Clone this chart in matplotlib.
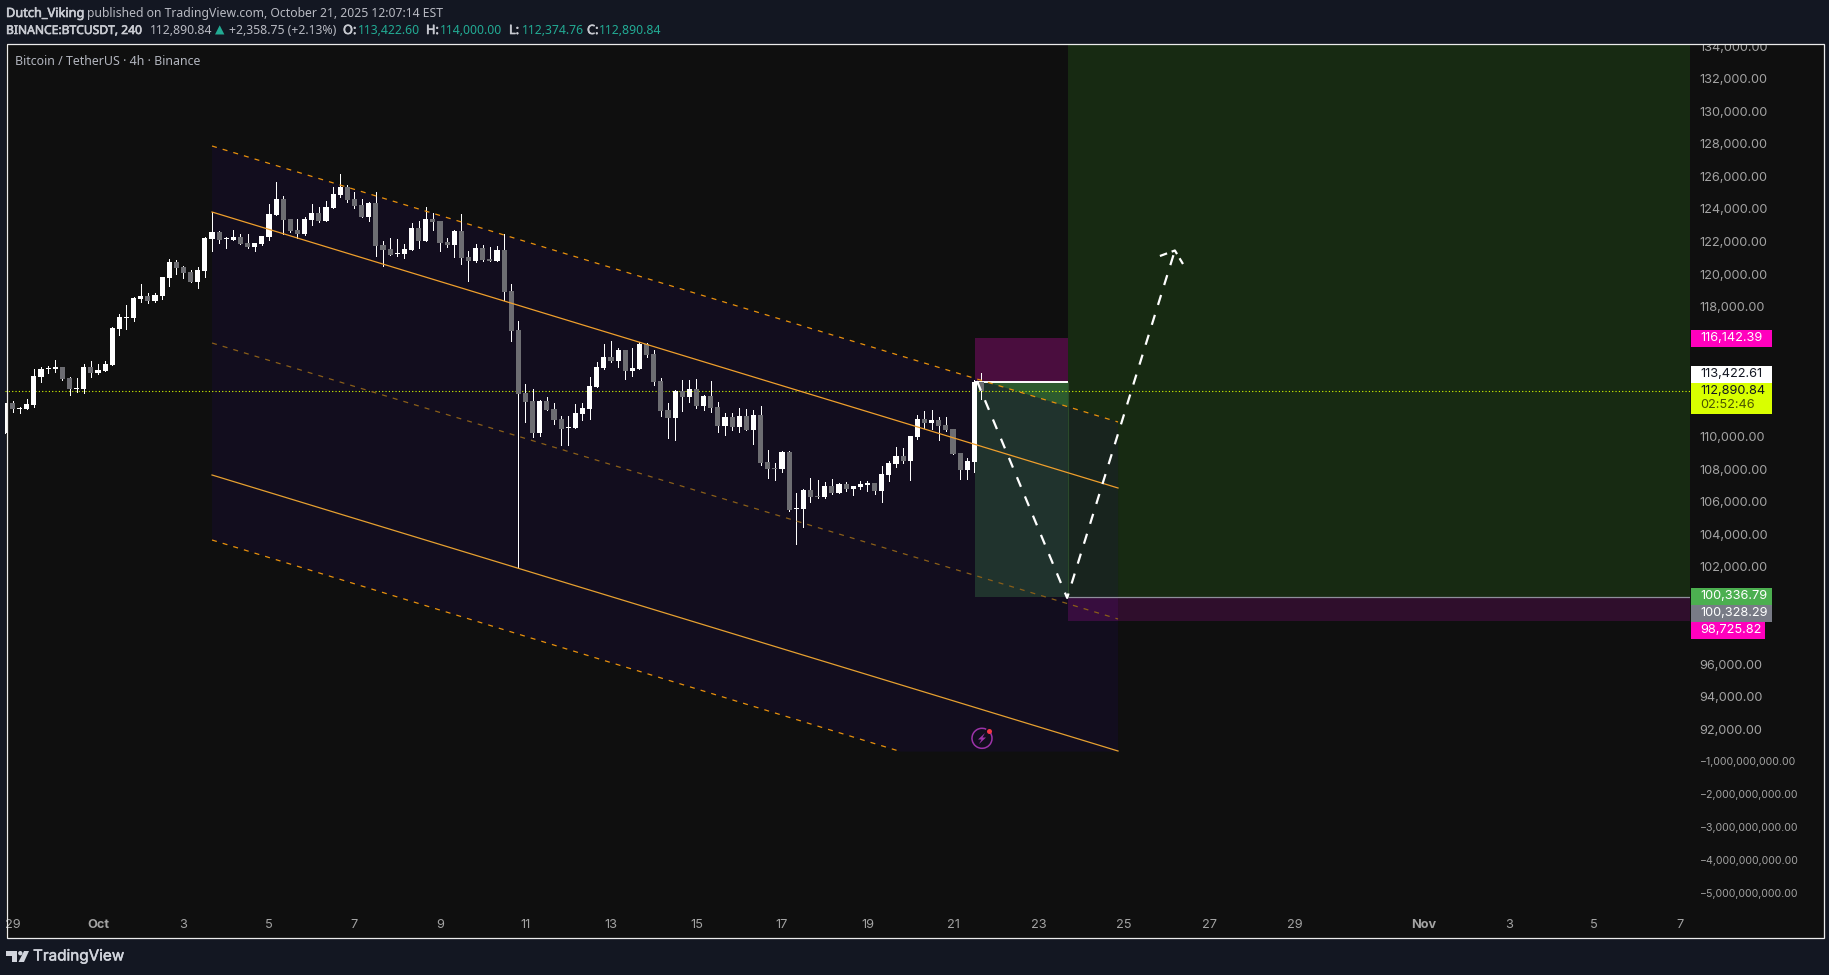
import matplotlib
matplotlib.use("Agg")
import matplotlib.pyplot as plt
import matplotlib.patheffects as pe
import numpy as np
from matplotlib.patches import Polygon, Rectangle, Circle, Arc

plt.rcParams['lines.scale_dashes'] = False
plt.rcParams['font.family'] = ['Noto Sans', 'DejaVu Sans']

# ---------- data ----------
opens = [
110270,112130,111780,111780,112010,113730,114240,114220,114340,113670,
112990,112990,114340,113970,114100,114470,116680,117360,117360,118520,
118710,118400,118710,119810,120800,120490,120180,119570,120240,122210,
122640,122210,122150,122330,121970,121720,121900,122330,123690,124670,
123440,122770,122520,123380,123810,123320,124120,124920,125410,124670,
124300,123560,124420,121840,121600,121290,121290,121540,122890,122090,
123440,123320,122030,121840,122700,121100,120860,121660,120980,120860,
121540,119020,116620,112750,112250,110290,112250,111760,111150,110600,
110600,111460,111760,113120,114280,114960,114710,115390,114100,114220,
115760,115140,113480,111700,111210,112870,112500,112990,111950,112560,
111890,110720,111270,110660,111330,110470,111390,108500,108140,108080,
109120,105620,105620,106780,106420,106350,107030,106600,107150,106850,
106970,107090,107210,106720,107710,108380,108870,108570,110040,111150,
110900,111090,110780,110530,109060,108010,108500,113422.60]
highs = [
112110,112250,111900,112360,114220,114320,114400,114770,114340,113710,
113670,114530,114710,114530,114690,116780,117600,118150,118650,119450,
118890,118890,119880,120980,120920,120550,120310,120490,122310,123870,
122700,122340,122770,122520,122520,121970,122400,124360,125720,124860,
123440,123440,123560,124360,124180,124550,125410,126210,125530,125100,
124670,124490,125100,122090,122270,122210,121900,123200,123320,124180,
123810,123320,122270,122770,123750,121470,121900,121840,121720,121780,
122520,119450,117170,113300,112990,112320,112500,112130,111330,111330,
112070,112130,113730,114650,115760,115940,115510,115390,115510,115880,
115820,115390,113670,112130,112930,113550,113550,113610,112620,113480,
112190,111520,111520,111820,111760,111700,111950,109240,108440,109180,
109180,106600,106850,107520,107400,107280,107460,107210,107280,107030,
107340,107340,107210,108260,108570,109430,109370,110100,111390,111640,
111700,111270,111270,110530,109060,108750,113550,114000]
lows = [
110270,111600,111540,111780,111900,113440,114000,114060,113540,112640,
112810,112770,113730,113910,114100,114470,116310,116680,117170,118340,
118280,118340,118520,119320,120060,119810,119570,119200,119880,121470,
121970,121660,122150,121900,121660,121470,121840,122150,123690,122520,
122640,122270,122460,123070,123260,123320,124120,124790,124490,124120,
123560,123320,121170,120550,121230,121170,121040,121540,121660,122090,
122770,121470,121720,121100,120680,119630,120800,120860,120860,120860,
118460,115940,101970,110960,110040,110100,111700,110840,109550,109550,
110600,111090,111150,113120,114220,114650,114340,113610,113790,114220,
114960,113240,111330,109980,109860,111640,112190,111820,111700,111580,
110350,110160,110470,110350,110470,109610,108320,107520,107400,107890,
105490,103460,104510,106050,106290,106290,106540,106600,106720,106480,
106850,106720,106540,106050,107340,108200,108440,107400,109920,110600,
110530,109860,110410,109000,107460,107460,107890,112374.76]
closes = [
112110,111760,111840,112070,113790,114220,114300,114340,113610,112990,
113050,114340,113970,114160,114530,116740,117420,117420,118580,118710,
118400,118770,119880,120800,120430,120120,119570,120310,122270,122640,
122150,122270,122330,121900,121720,121970,122400,123750,124670,123380,
122700,122520,123440,123810,123320,124180,124980,125410,124610,124240,
123560,124420,121780,121540,121230,121350,121600,122890,122090,123440,
123260,121970,121840,122700,121040,120860,121660,120920,120860,121540,
118960,116560,112690,112190,110290,112250,111700,111090,110530,110660,
111520,111820,113180,114340,114960,114710,115390,114100,114280,115760,
115080,113420,111640,111210,112870,112500,112990,111950,112560,111820,
110720,111270,110660,111330,110470,111390,108440,108080,108080,109120,
105550,105680,106780,106350,106350,107030,106600,107150,106850,107030,
107150,107210,106720,107770,108440,108870,108570,110100,111150,110900,
111090,110720,110470,109000,108010,108570,113420,112890.84]

first_candle_day = -13 / 6      # days from Oct 1
candle_step = 1 / 6

x_tick_days = [-2, 0, 2, 4, 6, 8, 10, 12, 14, 16, 18, 20, 22, 24, 26, 28, 31, 33, 35, 37]
x_tick_labels = ['29', 'Oct', '3', '5', '7', '9', '11', '13', '15', '17', '19', '21',
                 '23', '25', '27', '29', 'Nov', '3', '5', '7']

price_ticks = [134000, 132000, 130000, 128000, 126000, 124000, 122000, 120000, 118000,
               110000, 108000, 106000, 104000, 102000, 96000, 94000, 92000]
scale_break_ticks = [-1e9, -2e9, -3e9, -4e9, -5e9]

# channel (start day, end day, prices)
channel_days = [2.667, 23.86]
chan_top = [127929, 110964]
chan_upper = [123872, 106907]
chan_mid = [115820, 98853]
chan_lower = [107706, 90740]
chan_bottom_start = 103710
chan_floor = 90700
chan_bottom_end_day = 18.78

last_close = 112890.84
entry_a = 113422.61
stop_a = 116142.39
target_a = 100230
stop_b = 98725.82
pos_a_days = [20.515, 22.69]
pos_b_days = [22.69, 37.24]
sky_price = 134230

path_days = [20.56, 22.67, 25.19]
path_prices = [113484, 100150, 121506]
wing_days = [24.84, 25.19, 25.38]
wing_prices = [121168, 121506, 120676]

tags = [
    ('116,142.39', 330, 347, 1772, '#ff00bd', '#ffffff'),
    ('113,422.61', 366, 383, 1772, '#ffffff', '#131722'),
    ('100,336.79', 588, 605, 1772, '#4caf50', '#ffffff'),
    ('100,328.29', 605, 622, 1772, '#787b86', '#ffffff'),
    ('98,725.82', 622, 639, 1765, '#ff00bd', '#ffffff'),
]

# ---------- layout ----------
W, H = 1829, 975
fig = plt.figure(figsize=(W / 100, H / 100), dpi=100, facecolor='#131722')
L, R, T, B = 5.0, 1690, 43.5, 912

bg = fig.add_axes([0, 0, 1, 1], zorder=0)
bg.set_xlim(0, W); bg.set_ylim(H, 0); bg.axis('off')
bg.add_patch(Rectangle((6, T), 1817.5, 938 - T, fc='#0f0f0f', ec='none'))

ax = fig.add_axes([L / W, (H - B) / H, (R - L) / W, (B - T) / H], zorder=1)
ax.patch.set_alpha(0)
for s in ax.spines.values():
    s.set_visible(False)
ax.set_xlim((L - 98) / 42.75, (R - 98) / 42.75)
ax.set_ylim(124610 - (B - 200) * 61.47, 124610 + (200 - T) * 61.47)

TICK = ['Inter', 'Roboto', 'DejaVu Sans']
TS = 9.2

# positions
d0, d1 = pos_a_days
ax.add_patch(Rectangle((d0, entry_a), d1 - d0, stop_a - entry_a, fc='#4a0d3e', ec='none', zorder=1))
ax.add_patch(Rectangle((d0, target_a), d1 - d0, entry_a - target_a, fc='#2c5a2e', ec='none', zorder=1))
ax.add_patch(Rectangle((pos_b_days[0], target_a), pos_b_days[1] - pos_b_days[0], sky_price - target_a,
                       fc='#172a12', ec='none', zorder=1))
ax.add_patch(Rectangle((pos_b_days[0], stop_b), pos_b_days[1] - pos_b_days[0], target_a - stop_b,
                       fc='#2f0e2c', ec='none', zorder=1))

# channel fill
poly = [(channel_days[0], chan_top[0]), (channel_days[1], chan_top[1]), (channel_days[1], chan_floor),
        (chan_bottom_end_day, chan_floor), (channel_days[0], chan_bottom_start)]
ax.add_patch(Polygon(poly, closed=True, fc='#150d2d', ec='none', alpha=0.5, zorder=2))
# overlap of the channel with the large target box and stop box
top_at_b = np.interp(pos_b_days[0], channel_days, chan_top)
ax.add_patch(Polygon([(pos_b_days[0], top_at_b), (channel_days[1], chan_top[1]),
                      (channel_days[1], target_a), (pos_b_days[0], target_a)],
                     closed=True, fc='#18241e', ec='none', zorder=2.2))
ax.add_patch(Rectangle((pos_b_days[0], stop_b), channel_days[1] - pos_b_days[0], target_a - stop_b,
                       fc='#370d3e', ec='none', zorder=2.5))

# position edges
ax.plot(pos_a_days, [entry_a, entry_a], color='#ffffff', lw=1.4, zorder=3, solid_capstyle='butt')
ax.plot(pos_b_days, [target_a, target_a], color='#8f8f9c', lw=0.9, zorder=3, solid_capstyle='butt')
ax.plot([d1, d1], [target_a, entry_a], color='#2a4a2a', lw=0.8, zorder=3)

# close line
ax.axhline(last_close, color='#d9ff00', lw=0.8, ls=(0, (0.8, 1.6)), zorder=3)

# candles
days = first_candle_day + np.arange(len(closes)) * candle_step
o, h, l, c = map(np.array, (opens, highs, lows, closes))
up = c >= o
ax.vlines(days, l, h, color='#ffffff', lw=0.7, zorder=4, antialiased=False)
ax.bar(days, np.abs(c - o), bottom=np.minimum(o, c), width=0.117,
       color=np.where(up, '#ffffff', '#6d6d72').tolist(), linewidth=0, zorder=5, antialiased=False)

# channel lines
dash = (0, (3.6, 4.4))
ax.plot(channel_days, chan_top, color='#e8900c', lw=0.9, ls=dash, zorder=6)
ax.plot(channel_days, chan_upper, color='#ef9f2c', lw=0.9, zorder=6)
ax.plot(channel_days, chan_mid, color='#8a5e18', lw=0.9, ls=dash, zorder=6)
ax.plot(channel_days, chan_lower, color='#e6a030', lw=0.9, zorder=6)
ax.plot([channel_days[0], chan_bottom_end_day], [chan_bottom_start, chan_floor],
        color='#e8900c', lw=0.9, ls=dash, zorder=6)

# projected path
wdash = (0, (7.5, 7.5))
ax.plot(path_days, path_prices, color='#ffffff', lw=1.6, ls=wdash, zorder=7)
ax.plot(wing_days, wing_prices, color='#ffffff', lw=1.6, ls=(0, (5.5, 3.5)), zorder=7)

# axes ticks
ax.set_xticks(x_tick_days)
ax.set_xticklabels(x_tick_labels, family=TICK, fontsize=TS, color='#a3a3a3')
for t, s in zip(ax.get_xticklabels(), x_tick_labels):
    if s in ('Oct', 'Nov'):
        t.set_fontweight('bold')
ax.tick_params(axis='x', length=0, pad=5)

neg_pos = [90150 + (v / 1e9 + 1) * 2030 for v in scale_break_ticks]
yt = [v + 60 for v in price_ticks] + neg_pos
yl = [f'{v:,.2f}' for v in price_ticks] + [f'\u2212{abs(v):,.2f}' for v in scale_break_ticks]
ax.yaxis.tick_right()
ax.set_yticks(yt)
ax.set_yticklabels(yl, family=TICK, fontsize=TS, color='#a3a3a3')
for t in ax.get_yticklabels()[len(price_ticks):]:
    t.set_fontsize(7.6)
ax.tick_params(axis='y', length=0, pad=7)

# ---------- chrome ----------
ov = fig.add_axes([0, 0, 1, 1], zorder=2)
ov.set_xlim(0, W); ov.set_ylim(H, 0); ov.axis('off'); ov.patch.set_alpha(0)
ov.add_patch(Rectangle((0, 0), W, T, fc='#131722', ec='none', zorder=1))
ov.add_patch(Rectangle((0, 938), W, H - 938, fc='#131722', ec='none', zorder=1))
ov.add_patch(Rectangle((0, 0), 5, H, fc='#131722', ec='none', zorder=1))
ov.add_patch(Rectangle((6.5, T), 1817, 938 - T, fc='none', ec='#ececec', lw=0.9, zorder=2))

for txt, y0, y1, xr, fc, tc in tags:
    ov.add_patch(Rectangle((1691, y0), xr - 1691, y1 - y0, fc=fc, ec='none', zorder=3))
    ov.text(1700, (y0 + y1) / 2 - 0.5, txt, family=TICK, fontsize=TS, color=tc, va='center', ha='left', zorder=4)
ov.add_patch(Rectangle((1691, 383), 81, 31, fc='#d9ff00', ec='none', zorder=3))
ov.text(1700, 391, '112,890.84', family=TICK, fontsize=TS, color='#131722', va='center', zorder=4)
ov.text(1700, 404.5, '02:52:46', family=TICK, fontsize=TS, color='#4c5600', va='center', zorder=4)

HF = ['Noto Sans', 'DejaVu Sans']
def label(x, y, s, color, bold=False, size=8.8):
    t = ov.text(x, y, s, color=color, fontsize=size, va='baseline', ha='left', family=HF, zorder=4)
    if bold:
        t.set_path_effects([pe.withStroke(linewidth=0.45, foreground=color)])
    return t

G = '#c9cbd2'; TEAL = '#22ab94'; M = '#b8bac2'
label(6, 17, 'Dutch_Viking', G, True, 9.2)
label(87, 17, 'published on TradingView.com, October 21, 2025 12:07:14 EST', M)
label(6, 34, 'BINANCE:BTCUSDT, 240', G, True, 8.7)
label(150, 34, '112,890.84', M)
label(215, 34, '\u25b2', TEAL)
label(229, 34, '+2,358.75 (+2.13%)', M)
for lab, lx, gap, val in (('O:', 343, 15, '113,422.60'), ('H:', 426, 14, '114,000.00'),
                          ('L:', 509, 13, '112,374.76'), ('C:', 587, 12, '112,890.84')):
    label(lx, 34, lab, G, True, 9.2)
    label(lx + gap, 34, val, TEAL)
label(15, 65, 'Bitcoin / TetherUS \u00b7 4h \u00b7 Binance', '#b2b5be', size=8.92)

# TradingView logo
LC = '#d1d4dc'
ov.add_patch(Polygon([(6, 951), (17, 951), (17, 962), (12, 962), (12, 955.5), (6, 955.5)], fc=LC, ec='none', zorder=4))
ov.add_patch(Circle((20.3, 953.2), 2.2, fc=LC, ec='none', zorder=4))
ov.add_patch(Polygon([(24, 951), (29, 951), (24, 962), (18.5, 962)], fc=LC, ec='none', zorder=4))
lt = ov.text(33, 956, 'TradingView', family=['Inter', 'DejaVu Sans'], fontsize=11,
             color=LC, va='center', ha='left', zorder=4)
lt.set_path_effects([pe.withStroke(linewidth=0.35, foreground=LC)])

# alert icon
IC = '#9c33a8'
ov.add_patch(Arc((982, 738.3), 20, 20, theta1=-40, theta2=-65 + 360, ec=IC, lw=1.1, zorder=4))
ov.add_patch(Polygon([(985, 733), (978, 739.5), (981.5, 739.5), (979, 744), (986, 737.5), (982.5, 737.5)],
                     fc=IC, ec='none', zorder=4))
ov.add_patch(Circle((989.5, 731.5), 2.5, fc='#f23645', ec='none', zorder=5))

fig.savefig('out.png', dpi=100, facecolor=fig.get_facecolor())
